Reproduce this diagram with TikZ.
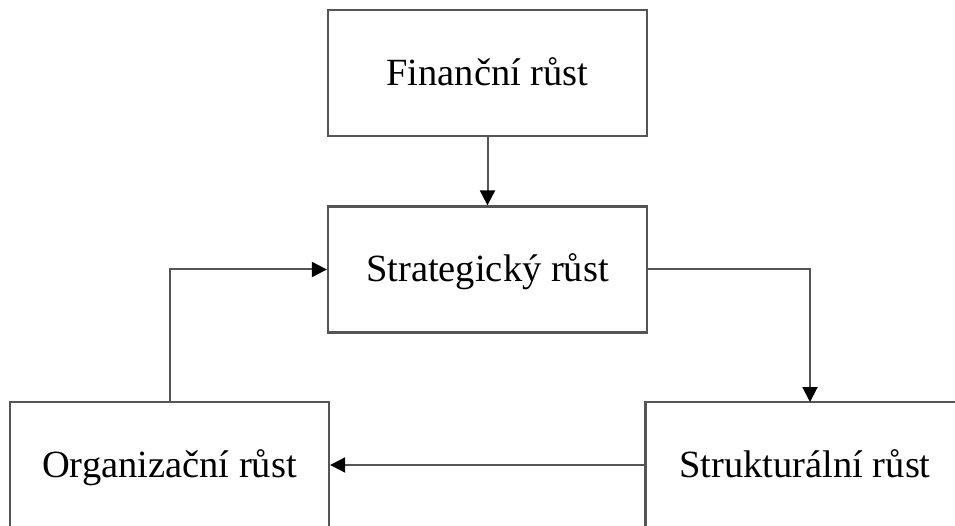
\documentclass[tikz,border=0pt]{standalone}
\usepackage{fontspec}
\setmainfont{Liberation Serif}
\usetikzlibrary{arrows.meta}
\definecolor{edgegray}{HTML}{555555}
\begin{document}
\begin{tikzpicture}[x=1pt,y=-1pt,
  growbox/.style={draw=edgegray,line width=2.3pt,fill=white,minimum width=319pt,
    minimum height=126pt,inner sep=0pt,text height=25pt,text depth=0pt,
    font=\fontsize{38.5}{44}\selectfont},
  flow/.style={draw=edgegray,line width=2pt,-{Triangle[length=15pt,width=15pt,color=black]}}]
\useasboundingbox (0,0) rectangle (955,526);
\clip (0,0) rectangle (955,526);
\node[growbox] (fin) at (487.5,73) {Finanční růst};
\node[growbox] (str) at (487.5,269.5) {Strategický růst};
\node[growbox] (org) at (169.5,465) {Organizační růst};
\node[growbox] (stk) at (805,465) {Strukturální růst};
\coordinate (stktop) at (810,402);
\draw[flow] (fin.south) -- (str.north);
\draw[flow] (str.east) -| (stktop);
\draw[flow] (stk.west) -- (org.east);
\draw[flow] (org.north) |- (str.west);
\end{tikzpicture}
\end{document}
